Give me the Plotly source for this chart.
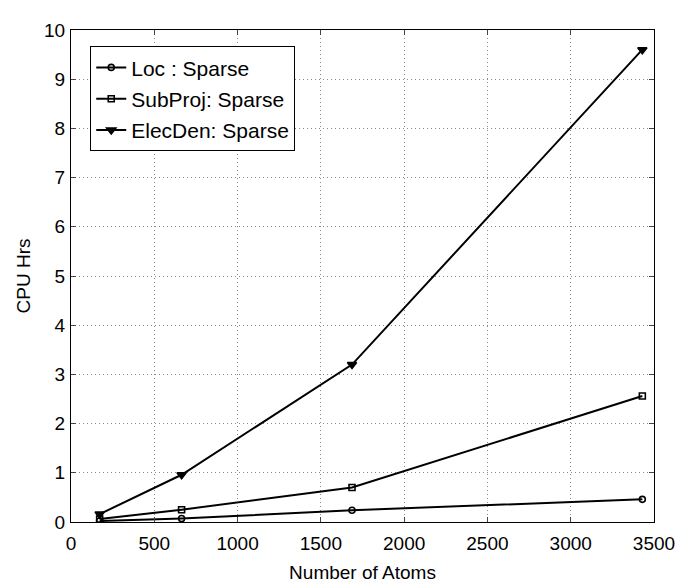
import plotly.graph_objects as go

atoms = [172, 664, 1687, 3430]
loc_sparse = [0.02, 0.07, 0.24, 0.46]
subproj_sparse = [0.06, 0.25, 0.70, 2.56]
elecden_sparse = [0.16, 0.96, 3.20, 9.60]

names = ["Loc : Sparse", "SubProj: Sparse", "ElecDen: Sparse"]
series = [loc_sparse, subproj_sparse, elecden_sparse]
symbols = ["circle-open", "square-open", "triangle-down"]
sizes = [6, 6, 8]

FONT = "Liberation Sans, Arial, Helvetica, sans-serif"

fig = go.Figure()
for i, (nm, ys, sym, sz) in enumerate(zip(names, series, symbols, sizes)):
    fig.add_trace(go.Scatter(
        x=atoms, y=ys, name=nm, mode="lines+markers",
        line=dict(color="black", width=2),
        marker=dict(symbol=sym, size=sz, color="black",
                    line=dict(color="black", width=1.6)),
        legendgroup=f"g{i}",
    ))

axis_common = dict(
    showline=True, linecolor="black", linewidth=1, mirror="ticks",
    ticks="inside", ticklen=5, tickcolor="#444",
    showgrid=True, gridcolor="#888", griddash="1px,3px", gridwidth=1,
    zeroline=False,
    tickfont=dict(family=FONT, size=19, color="black"),
    title_font=dict(family=FONT, size=19, color="black"),
)

fig.update_layout(
    width=689, height=583,
    margin=dict(l=63, r=43, t=19, b=63),
    paper_bgcolor="white", plot_bgcolor="white",
    font=dict(family=FONT, color="black"),
    xaxis=dict(range=[0, 3500], dtick=500, ticklabelstandoff=4,
               title=dict(text="Number of Atoms", standoff=12), **axis_common),
    yaxis=dict(range=[0, 10], dtick=1, ticklabelstandoff=1,
               title=dict(text="CPU Hrs", standoff=8), **axis_common),
    legend=dict(
        x=0.033, y=0.967, xanchor="left", yanchor="top",
        bgcolor="white", bordercolor="black", borderwidth=1,
        font=dict(family=FONT, size=21, color="black"),
        traceorder="grouped", tracegroupgap=1,
        itemwidth=30,
    ),
    showlegend=True,
)

fig.write_html("out.html")
